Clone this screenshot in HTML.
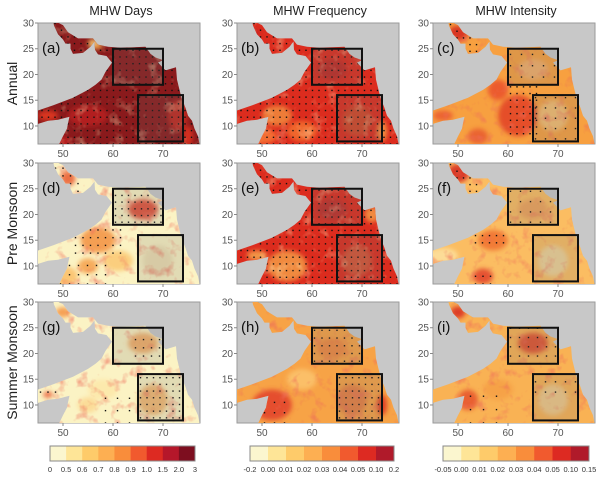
<!DOCTYPE html>
<html><head><meta charset="utf-8">
<style>
body{margin:0;background:#fff;}
svg{display:block;font-family:"Liberation Sans",sans-serif;}
</style></head>
<body>
<svg id="fig" width="600" height="477" viewBox="0 0 600 477">
<defs>
<filter id="blur" x="-20%" y="-20%" width="140%" height="140%"><feGaussianBlur stdDeviation="2.5"/></filter>
<filter id="mottleRed" x="0" y="0" width="100%" height="100%">
  <feTurbulence type="fractalNoise" baseFrequency="0.09" numOctaves="3" seed="3" result="n"/>
  <feColorMatrix in="n" type="matrix" values="0 0 0 0 0.85  0 0 0 0 0.15  0 0 0 0 0.1  0 0 0 3.2 -1.75"/>
</filter>
<filter id="mottleLight" x="0" y="0" width="100%" height="100%">
  <feTurbulence type="fractalNoise" baseFrequency="0.08" numOctaves="3" seed="9" result="n"/>
  <feColorMatrix in="n" type="matrix" values="0 0 0 0 1  0 0 0 0 0.85  0 0 0 0 0.5  0 0 0 3.2 -1.75"/>
</filter>
</defs>
</svg>
<script>
// ---- data ----
const colTitles = ["MHW Days","MHW Frequency","MHW Intensity"];
const rowTitles = ["Annual","Pre  Monsoon","Summer  Monsoon"];
const panelLetters = ["(a)","(b)","(c)","(d)","(e)","(f)","(g)","(h)","(i)"];
const xTicks = [50,60,70];
const yTicks = [30,25,20,15,10];
const cbLabels1 = ["0","0.5","0.6","0.7","0.8","0.9","1.0","1.5","2.0","3"];
const cbLabels2 = ["-0.2","0.00","0.01","0.02","0.03","0.04","0.05","0.10","0.2"];
const cbLabels3 = ["-0.05","0.00","0.01","0.02","0.03","0.04","0.05","0.10","0.15"];
const cbColors9 = ["#fbf6cf","#fee597","#fecb6a","#fdaf52","#f98d3b","#f15a2e","#dd2a22","#b5172a","#7d0e1f"];
const cbColors8 = ["#fbf6cf","#fee597","#fecb6a","#fdaf52","#f98d3b","#f15a2e","#dd2a22","#b01a2a"];
const boxes = [[60,18,70,25],[65,7,74,16]];
const sea = [[48,30.5],[50,29.6],[51,28.2],[53,27],[56,27],[57,25.8],[59,25.4],[61.5,25.2],[64,25.3],[66.5,25.4],[67.5,24],[68.5,23.3],[70,22.8],[69,22.3],[70.5,20.8],[72.6,21.4],[72.8,19],[73.3,17],[73.7,15.5],[74.5,13.5],[75,12],[75.8,11],[76.3,9.5],[77,8],[77.4,6],[48.8,6],[49.3,6.6],[50,8],[50.8,9.5],[51,10.5],[51.3,11.8],[49,11.2],[47,11],[45,10.4],[44,10.6],[44,12.7],[45,13],[48,14],[52,15.5],[55,17],[56.5,18],[57.7,19],[58.5,20.5],[59.8,22.3],[58.7,23.6],[57,23.9],[56.4,24.8],[56.3,26.4],[55.5,25.4],[54,24.2],[52,24],[51.5,25],[51.5,26],[50.5,26],[50,26.8],[49,27.8],[48.2,29.5]];
const baseColors = ["#8a1a1c","#dc2c1e","#f7a040","#fbf3c4","#dc2c1e","#fbbd62","#fbf3c4","#f7a346","#f9b254"];
// mottle type per panel: 0 none,1 red,2 light
const mottle = [2,2,1,1,2,1,1,1,1];
const blobs = [
 [[55,12,4,2,"#b8221f"],[47,12,2,1,"#e83a22"],[56,26,1,1,"#fcd070"],[73,12,2,3,"#c82a1f"],[75,8,1,2,"#e2321f"],[50,7,1.5,1,"#c02020"],[57,25.5,1,0.6,"#f8b050"]],
 [[50,8,3,1.5,"#f87a35"],[53,12,3,2,"#f08a3c"],[58,9,3,2,"#f37030"],[69,11,3,3,"#cf4a2a"],[64,21,3,2,"#b82a24"],[48,28,1.5,1,"#c42020"],[74,9,1,2,"#f7a045"]],
 [[62,12,4,4,"#e23e26"],[58,17,2,2,"#ea4f2a"],[50,28,2,1.5,"#d4261e"],[69,12,3,3,"#f4c27a"],[65,21,3,2,"#f2b270"],[54,8,2,1.5,"#e85a2e"],[47,12,2,1,"#ea5a30"]],
 [[66,21,3,2,"#dd3a26"],[57,15,3.5,2.5,"#f39040"],[61,11,3,2,"#fbc872"],[51,27,1.5,1.5,"#ea5a30"],[50,8,3,2,"#fbbe66"],[69,11,3,3,"#ecdcae"],[55,10,2,1.5,"#f6a04a"]],
 [[55,10,4,3,"#f39a45"],[69,11,3,3,"#d45a3a"],[64,21,3,2,"#b8302a"],[49,12,2,1,"#f6a84e"],[72,20,1.5,1.5,"#f59a45"]],
 [[50,28,2.2,1.8,"#d4241e"],[57,15,3,2,"#f0702f"],[55,8,2,1.5,"#e2402a"],[69,11,3,3,"#eed6a0"],[65,21,3,2,"#eea05a"],[47,12,3,1.5,"#fde2a0"]],
 [[68,11,3,3,"#f3b066"],[66,22,3,2,"#f2a65c"],[50,28,1.5,1,"#f59040"],[55,10,2,1.5,"#fcd890"],[47,12,1,0.6,"#ea502c"],[58,13,3,2,"#fde8a8"]],
 [[52,10,4,3,"#e2402a"],[68,11,3,3,"#e47a42"],[64,21,3,2,"#ee8440"],[58,15,3,2,"#fcc46e"],[74,10,1,2,"#dc2e1f"]],
 [[50,28,1.5,1.2,"#d82a20"],[65,22,3,2,"#dd4428"],[52,11,2,2,"#e6522c"],[69,11,3,3,"#f0cc90"],[58,13,3,2,"#f6a044"]]
];
const dotRegions = [
 [[44,6,78,31,1.3]],
 [[44,6,78,31,1.3]],
 [[60,8,66,18,1.3],[48,24,54,30,1.3],[65,7,74,16,2],[60,19,70,25,2.2]],
 [[60,18,70,25,1.3],[52,12,62,18,1.5],[48,24,54,30,1.5],[49,6,60,11,1.8]],
 [[44,6,78,31,1.3]],
 [[48,24,54,30,1.3],[60,18,70,25,2],[53,14,60,17,1.4],[53,6,58,9,1.5]],
 [[64,19,70,24,1.6],[65,7,74,16,1.3],[45,12,50,14,1.5],[58,6,64,12,2.4]],
 [[60,18,70,25,1.5],[65,7,74,16,1.3],[48,6,56,11,2]],
 [[60,19,70,25,1.8],[65,12,74,16,2],[52,6,60,12,2.6]]
];
const colX = [38,237,433];
const rowY = [23,163,302];
const mapW = 162, mapH = 121;
const lon0 = 45, lon1 = 77.4, lat0 = 6.5, lat1 = 30;

const NS = "http://www.w3.org/2000/svg";
const svg = document.getElementById("fig");
function mk(tag, attrs, parent){const e=document.createElementNS(NS,tag);for(const k in attrs)e.setAttribute(k,attrs[k]);(parent||svg).appendChild(e);return e;}
function inPoly(x,y,poly){let c=false;for(let i=0,j=poly.length-1;i<poly.length;j=i++){const [xi,yi]=poly[i],[xj,yj]=poly[j];if(((yi>y)!=(yj>y))&&(x<(xj-xi)*(y-yi)/(yj-yi)+xi))c=!c;}return c;}

colTitles.forEach((t,i)=>{
  const e=mk("text",{x:colX[i]+mapW/2+2,y:15,"text-anchor":"middle","font-size":"12.5",fill:"#222"});
  e.textContent=t;
  
  
});
rowTitles.forEach((t,i)=>{
  const cy=rowY[i]+mapH/2;
  const e=mk("text",{x:0,y:0,transform:`translate(17,${cy}) rotate(-90)`,"text-anchor":"middle","font-size":"14",fill:"#222","xml:space":"preserve"});
  e.textContent=t;
  
  
});

for(let r=0;r<3;r++)for(let c=0;c<3;c++){
  const p=r*3+c, ox=colX[c], oy=rowY[r];
  const sx=lon=>ox+(lon-lon0)/(lon1-lon0)*mapW;
  const sy=lat=>oy+(lat1-lat)/(lat1-lat0)*mapH;
  const g=mk("g",{});
  
  
  const cid="clip"+p;
  const cp=mk("clipPath",{id:cid},g);
  const pts=sea.map(([a,b])=>sx(a).toFixed(1)+","+sy(b).toFixed(1)).join(" ");
  mk("polygon",{points:pts},cp);
  const rc=mk("clipPath",{id:"rc"+p},g);
  mk("rect",{x:ox,y:oy,width:mapW,height:mapH},rc);
  const land=mk("rect",{x:ox,y:oy,width:mapW,height:mapH,fill:"#c8c8c8",stroke:"#9a9a9a","stroke-width":1},g);
  
  
  const inner=mk("g",{"clip-path":`url(#rc${p})`},g);
  const seaG=mk("g",{"clip-path":`url(#${cid})`},inner);
  mk("rect",{x:ox,y:oy,width:mapW,height:mapH,fill:baseColors[p]},seaG);
  const bg=mk("g",{filter:"url(#blur)"},seaG);
  blobs[p].forEach(([a,b,rx,ry,col])=>{
    const e=mk("ellipse",{cx:sx(a),cy:sy(b),rx:rx*mapW/(lon1-lon0),ry:ry*mapH/(lat1-lat0),fill:col,opacity:0.85},bg);
    
    
  });
  if(mottle[p]){
    const m=mk("rect",{x:ox,y:oy,width:mapW,height:mapH,filter:mottle[p]==1?"url(#mottleRed)":"url(#mottleLight)",opacity:mottle[p]==1?0.55:0.35},seaG);
    
    
  }
  const seen={};
  dotRegions[p].forEach(([a0,b0,a1,b1,st])=>{
    for(let a=a0+0.5;a<a1;a+=st)for(let b=b0+0.5;b<b1;b+=st){
      if(!inPoly(a,b,sea))continue;
      const k=Math.round(sx(a)/2)+"_"+Math.round(sy(b)/2);if(seen[k])continue;seen[k]=1;
      const d=mk("rect",{x:sx(a)-0.7,y:sy(b)-0.7,width:1.4,height:1.4,fill:"#111"},seaG);
      
      
    }
  });
  boxes.forEach(([a0,b0,a1,b1],bi)=>{
    const e=mk("rect",{x:sx(a0),y:sy(b1),width:sx(a1)-sx(a0),height:sy(b0)-sy(b1),fill:"rgba(110,110,110,0.18)",stroke:"#111","stroke-width":2},inner);
    
    
  });
  const lt=mk("text",{x:ox+4,y:sy(24.2),"font-size":"15",fill:"#111"},g);
  lt.textContent=panelLetters[p];
  
  
  yTicks.forEach(v=>{
    mk("line",{x1:ox-3,x2:ox,y1:sy(v),y2:sy(v),stroke:"#888"},g);
    const t=mk("text",{x:ox-4,y:sy(v)+3.5,"text-anchor":"end","font-size":"10",fill:"#555"},g);
    t.textContent=v;
    
    
  });
  xTicks.forEach(v=>{
    mk("line",{x1:sx(v),x2:sx(v),y1:oy+mapH,y2:oy+mapH+3,stroke:"#888"},g);
    const t=mk("text",{x:sx(v),y:oy+mapH+13,"text-anchor":"middle","font-size":"10",fill:"#555"},g);
    t.textContent=v;
    
    
  });
}

const cbs=[[50,195,cbColors9,cbLabels1],[250,394,cbColors8,cbLabels2],[443,589,cbColors8,cbLabels3]];
cbs.forEach(([x0,x1,cols,labs],i)=>{
  const g=mk("g",{});
  
  
  const w=(x1-x0)/cols.length;
  cols.forEach((col,j)=>{
    const e=mk("rect",{x:x0+j*w,y:446,width:w+0.3,height:15,fill:col},g);
    
    
  });
  mk("rect",{x:x0,y:446,width:x1-x0,height:15,fill:"none",stroke:"#888","stroke-width":1},g);
  labs.forEach((l,j)=>{
    const t=mk("text",{x:x0+j*w,y:472,"text-anchor":"middle","font-size":"7.5",fill:"#333"},g);
    t.textContent=l;
    
    
  });
});
</script>
</body></html>
